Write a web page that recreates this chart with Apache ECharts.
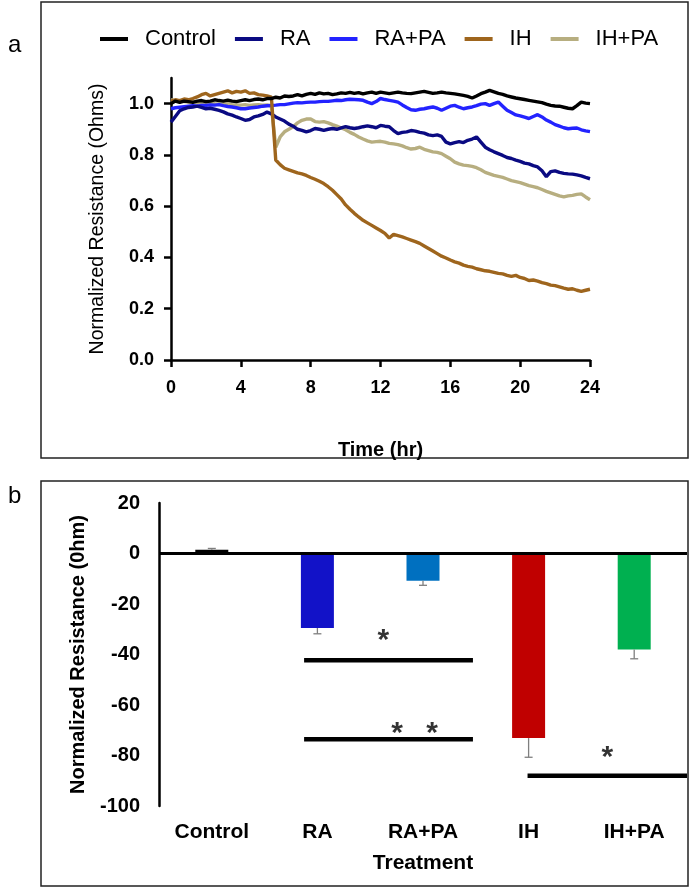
<!DOCTYPE html>
<html><head><meta charset="utf-8">
<script src="https://cdn.jsdelivr.net/npm/echarts@6/dist/echarts.min.js"></script>
<style>html,body{margin:0;padding:0;background:#fff}#c{width:693px;height:889px}</style>
</head><body><div id="c"></div>
<script>
// ---------- Panel a data (time in hours, normalized resistance) ----------
const time = [
 0,0.25,0.5,0.75, 1,1.25,1.5,1.75, 2,2.25,2.5,2.75, 3,3.25,3.5,3.75,
 4,4.25,4.5,4.75, 5,5.25,5.5,5.75, 6,6.25,6.5,6.75, 7,7.25,7.5,7.75,
 8,8.25,8.5,8.75, 9,9.25,9.5,9.75, 10,10.25,10.5,10.75, 11,11.25,11.5,11.75,
 12,12.25,12.5,12.75, 13,13.25,13.5,13.75, 14,14.25,14.5,14.75, 15,15.25,15.5,15.75,
 16,16.25,16.5,16.75, 17,17.25,17.5,17.75, 18,18.25,18.5,18.75, 19,19.25,19.5,19.75,
 20,20.25,20.5,20.75, 21,21.25,21.5,21.75, 22,22.25,22.5,22.75, 23,23.25,23.5,23.75, 24];
const control = [
 1.000,1.010,1.005,1.010, 1.008,1.005,1.010,1.012, 1.008,1.010,1.015,1.012, 1.010,1.014,1.010,1.008,
 1.012,1.015,1.012,1.016, 1.018,1.015,1.020,1.020, 1.025,1.022,1.030,1.028, 1.030,1.035,1.030,1.036,
 1.040,1.036,1.042,1.038, 1.040,1.035,1.038,1.042, 1.040,1.044,1.040,1.043, 1.038,1.042,1.045,1.040,
 1.045,1.042,1.039,1.042, 1.045,1.042,1.040,1.039, 1.042,1.045,1.048,1.044, 1.040,1.042,1.045,1.042,
 1.040,1.038,1.035,1.032, 1.028,1.022,1.030,1.039, 1.045,1.052,1.046,1.040, 1.036,1.030,1.026,1.022,
 1.019,1.016,1.013,1.010, 1.007,1.004,0.998,0.993, 0.991,0.990,0.986,0.982, 0.980,0.992,1.006,1.002, 1.000];
const ra = [
 0.928,0.950,0.972,0.980, 0.985,0.987,0.990,0.985, 0.980,0.982,0.978,0.974, 0.968,0.960,0.955,0.948,
 0.942,0.935,0.938,0.948, 0.952,0.958,0.967,0.960, 0.948,0.940,0.932,0.920, 0.912,0.900,0.896,0.890,
 0.895,0.903,0.900,0.896, 0.900,0.903,0.900,0.905, 0.910,0.906,0.903,0.906, 0.910,0.913,0.910,0.906,
 0.915,0.912,0.910,0.895, 0.883,0.888,0.890,0.895, 0.893,0.888,0.885,0.878, 0.875,0.878,0.872,0.850,
 0.843,0.848,0.852,0.848, 0.857,0.862,0.870,0.850, 0.830,0.820,0.812,0.805, 0.798,0.790,0.786,0.780,
 0.775,0.768,0.765,0.758, 0.753,0.738,0.715,0.735, 0.738,0.732,0.728,0.726, 0.725,0.722,0.718,0.712, 0.707];
const rapa = [
 0.980,0.984,0.986,0.988, 0.990,0.992,0.990,0.993, 0.993,0.995,0.994,0.996, 0.992,0.989,0.987,0.984,
 0.980,0.980,0.983,0.985, 0.987,0.990,0.992,0.993, 0.994,0.996,0.996,0.999, 1.002,1.004,1.003,1.005,
 1.006,1.006,1.008,1.009, 1.009,1.011,1.013,1.012, 1.015,1.017,1.016,1.015, 1.013,1.006,1.000,1.008,
 1.020,1.016,1.013,1.010, 1.006,0.995,0.985,0.976, 0.974,0.978,0.980,0.984, 0.987,0.982,0.974,0.982,
 0.990,0.993,0.986,0.980, 0.984,0.987,0.992,0.998, 1.000,0.993,1.000,1.006, 0.990,0.974,0.965,0.956,
 0.952,0.947,0.942,0.950, 0.957,0.948,0.936,0.928, 0.918,0.912,0.906,0.902, 0.904,0.905,0.898,0.894, 0.891];
const ih = [
 1.010,1.015,1.012,1.018, 1.015,1.020,1.026,1.035, 1.040,1.030,1.035,1.040, 1.045,1.050,1.042,1.048,
 1.045,1.050,1.040,1.042, 1.035,1.033,1.030,1.025, 0.780,0.762,0.748,0.742, 0.736,0.730,0.726,0.720,
 0.712,0.705,0.697,0.688, 0.676,0.662,0.645,0.628, 0.605,0.588,0.572,0.558, 0.545,0.535,0.525,0.515,
 0.505,0.494,0.476,0.490, 0.485,0.480,0.474,0.468, 0.462,0.455,0.445,0.435, 0.425,0.415,0.405,0.398,
 0.390,0.383,0.378,0.370, 0.365,0.362,0.356,0.352, 0.348,0.346,0.342,0.338, 0.336,0.330,0.326,0.330,
 0.322,0.318,0.310,0.312, 0.308,0.302,0.298,0.292, 0.290,0.285,0.280,0.276, 0.278,0.272,0.268,0.272, 0.276];
const ihpa = [
 1.015,1.012,1.010,1.008, 1.006,1.008,1.005,1.003, 1.002,1.004,1.000,0.998, 0.998,1.000,0.996,0.995,
 0.994,0.996,0.993,0.995, 0.996,0.994,0.995,0.990, 0.830,0.870,0.890,0.900, 0.910,0.925,0.935,0.940,
 0.940,0.930,0.928,0.930, 0.925,0.918,0.912,0.905, 0.898,0.888,0.880,0.870, 0.862,0.855,0.850,0.852,
 0.853,0.850,0.845,0.843, 0.840,0.835,0.828,0.823, 0.825,0.830,0.822,0.817, 0.812,0.810,0.805,0.795,
 0.785,0.772,0.765,0.760, 0.758,0.755,0.750,0.742, 0.732,0.726,0.720,0.716, 0.712,0.706,0.700,0.696,
 0.692,0.686,0.680,0.676, 0.672,0.665,0.658,0.652, 0.646,0.640,0.636,0.640, 0.642,0.646,0.648,0.636, 0.625];
const lineNames = ['Control','RA','RA+PA','IH','IH+PA'];
const yTicksA = [0, 0.2, 0.4, 0.6, 0.8, 1.0];
const xTicksA = [0, 4, 8, 12, 16, 20, 24];

// ---------- Panel b data ----------
const treatments = ['Control','RA','RA+PA','IH','IH+PA'];
const barValues = [1.5, -29.5, -10.8, -73.1, -38.0];
const barErrors = [0.5, 2.3, 1.8, 7.6, 3.7];
// significance annotations (x in category-band units 0..5, y in data units)
const sigLines = [[1.374, 2.973, -42.3], [1.374, 2.973, -73.6], [3.49, 5.0, -88.0]];
const sigStars = [[2.125, -34.5], [2.254, -71.5], [2.585, -71.5], [4.246, -81.0]];

// ---------- styling ----------
const FONT = 'Arial, "Liberation Sans", Helvetica, sans-serif';
const lineColors = {'Control':'#000000','RA':'#0a0a82','RA+PA':'#2323ff','IH':'#9e651d','IH+PA':'#b7ae80'};
const barColors = ['#000000','#1212c8','#0070c0','#c00000','#00b050'];
const lineData = {'Control':control,'RA':ra,'RA+PA':rapa,'IH':ih,'IH+PA':ihpa};
const drawOrder = ['IH+PA','RA+PA','RA','IH','Control'];

const series = [];
drawOrder.forEach(n => {
  series.push({
    name: n, type: 'line', xAxisIndex: 0, yAxisIndex: 0,
    data: time.map((t, i) => [t, lineData[n][i]]),
    showSymbol: false, symbol: 'none', smooth: false,
    color: lineColors[n],
    lineStyle: {width: 3.4, color: lineColors[n]},
    itemStyle: {color: lineColors[n]},
    animation: false
  });
});
series.push({
  name: 'bars', type: 'bar', xAxisIndex: 1, yAxisIndex: 1, barWidth: 33,
  data: barValues.map((v, i) => ({value: v, itemStyle: {color: barColors[i]}})),
  markLine: {silent: true, symbol: 'none', label: {show: false},
    lineStyle: {color: '#000', width: 3, type: 'solid'}, data: [{yAxis: 0}]},
  animation: false, z: 2
});
series.push({
  name: 'err', type: 'custom', xAxisIndex: 1, yAxisIndex: 1,
  data: barValues.map((v, i) => [i, v, v < 0 ? v - barErrors[i] : v + barErrors[i]]),
  renderItem: (params, api) => {
    const p0 = api.coord([api.value(0), api.value(1)]);
    const p1 = api.coord([api.value(0), api.value(2)]);
    const st = {stroke: '#7f7f7f', lineWidth: 1.3};
    return {type: 'group', children: [
      {type: 'line', shape: {x1: p0[0], y1: p0[1], x2: p1[0], y2: p1[1]}, style: st},
      {type: 'line', shape: {x1: p1[0] - 4, y1: p1[1], x2: p1[0] + 4, y2: p1[1]}, style: st}
    ]};
  }, animation: false, z: 3
});
sigLines.forEach((s, k) => {
  series.push({
    name: 'sig' + k, type: 'line', xAxisIndex: 2, yAxisIndex: 1,
    data: [[s[0], s[2]], [s[1], s[2]]], showSymbol: false, symbol: 'none',
    lineStyle: {color: '#000', width: 4.5}, animation: false, z: 4
  });
});
series.push({
  name: 'stars', type: 'scatter', xAxisIndex: 2, yAxisIndex: 1, symbolSize: 1,
  itemStyle: {color: 'rgba(0,0,0,0)'},
  data: sigStars,
  label: {show: true, position: 'inside', formatter: '*', fontSize: 30, fontWeight: 'bold',
    color: '#000', fontFamily: FONT},
  animation: false, z: 5
});

const option = {
  backgroundColor: '#fff',
  animation: false,
  textStyle: {fontFamily: FONT},
  legend: {
    data: lineNames, left: 95, top: 23, icon: 'rect', itemWidth: 28, itemHeight: 4, itemGap: 19,
    textStyle: {fontSize: 22, color: '#000', fontFamily: FONT, padding: [0, 0, 0, 12]},
    selectedMode: false
  },
  grid: [
    {left: 171, top: 78, width: 419, height: 282},
    {left: 159, top: 503, width: 528, height: 303}
  ],
  xAxis: [
    {gridIndex: 0, type: 'value', min: 0, max: 24, interval: 4,
     axisLine: {show: true, onZero: false, lineStyle: {color: '#000', width: 2.5}},
     axisTick: {show: true, length: 7, lineStyle: {color: '#000', width: 2.5}},
     axisLabel: {fontSize: 18, fontWeight: 'bold', color: '#000', margin: 19, fontFamily: FONT},
     splitLine: {show: false},
     name: 'Time (hr)', nameLocation: 'middle', nameGap: 80,
     nameTextStyle: {fontSize: 20, fontWeight: 'bold', color: '#000', fontFamily: FONT}},
    {gridIndex: 1, type: 'category', data: treatments, boundaryGap: true,
     axisLine: {show: false, onZero: false}, axisTick: {show: false},
     axisLabel: {fontSize: 21, fontWeight: 'bold', color: '#000', margin: 16, fontFamily: FONT},
     name: 'Treatment', nameLocation: 'middle', nameGap: 47,
     nameTextStyle: {fontSize: 21, fontWeight: 'bold', color: '#000', fontFamily: FONT}},
    {gridIndex: 1, type: 'value', min: 0, max: 5, show: false}
  ],
  yAxis: [
    {gridIndex: 0, type: 'value', min: 0, max: 1.1, interval: 0.2,
     axisLine: {show: true, lineStyle: {color: '#000', width: 2.5}},
     axisTick: {show: true, length: 7, lineStyle: {color: '#000', width: 2.5}, customValues: yTicksA},
     axisLabel: {customValues: yTicksA, formatter: v => Number(v).toFixed(1), fontSize: 18,
       fontWeight: 'bold', color: '#000', margin: 17, fontFamily: FONT},
     splitLine: {show: false},
     name: 'Normalized Resistance (Ohms)', nameLocation: 'middle', nameGap: 63,
     nameTextStyle: {fontSize: 19.5, color: '#000', fontFamily: FONT}},
    {gridIndex: 1, type: 'value', min: -100, max: 20, interval: 20,
     axisLine: {show: true, lineStyle: {color: '#000', width: 2.5}},
     axisTick: {show: false},
     axisLabel: {fontSize: 20, fontWeight: 'bold', color: '#000', margin: 19, fontFamily: FONT},
     splitLine: {show: false},
     name: 'Normalized Resistance (0hm)', nameLocation: 'middle', nameGap: 71,
     nameTextStyle: {fontSize: 20, fontWeight: 'bold', color: '#000', fontFamily: FONT}}
  ],
  graphic: [
    {type: 'rect', shape: {x: 41, y: 2, width: 647, height: 456}, style: {fill: 'none', stroke: '#222', lineWidth: 1.5}, silent: true, z: -1},
    {type: 'rect', shape: {x: 41, y: 481, width: 647, height: 405}, style: {fill: 'none', stroke: '#222', lineWidth: 1.5}, silent: true, z: -1},
    {type: 'text', left: 8, top: 33, style: {text: 'a', fontSize: 24, fill: '#000', fontFamily: FONT}},
    {type: 'text', left: 8, top: 484, style: {text: 'b', fontSize: 24, fill: '#000', fontFamily: FONT}}
  ],
  series: series
};
const chart = echarts.init(document.getElementById('c'), null, {renderer: 'canvas'});
chart.setOption(option);
</script>
</body></html>
